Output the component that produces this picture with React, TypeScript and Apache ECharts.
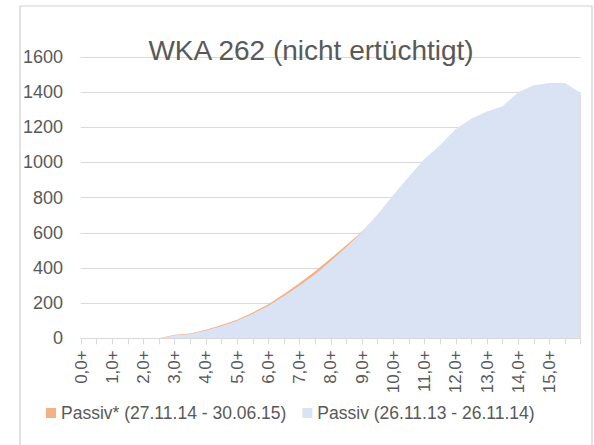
import React, { useEffect, useRef } from "react";
import * as echarts from "echarts";

const categories = [
  "0,0+", "0,5+", "1,0+", "1,5+", "2,0+", "2,5+", "3,0+", "3,5+", "4,0+", "4,5+",
  "5,0+", "5,5+", "6,0+", "6,5+", "7,0+", "7,5+", "8,0+", "8,5+", "9,0+", "9,5+",
  "10,0+", "10,5+", "11,0+", "11,5+", "12,0+", "12,5+", "13,0+", "13,5+", "14,0+", "14,5+",
  "15,0+", "15,5+", "16,0+",
];

const passivStar = [
  0, 0, 0, 0, 0, 0, 20, 27, 48, 75,
  106, 147, 194, 252, 314, 382, 455, 530, 608, 700,
  805, 910, 1010, 1090, 1180, 1240, 1280, 1310, 1390, 1430,
  1440, 1440, 1385,
];

const passiv = [
  0, 0, 0, 0, 0, 0, 18, 24, 45, 70,
  100, 140, 185, 240, 300, 365, 440, 520, 605, 705,
  815, 920, 1020, 1100, 1190, 1250, 1290, 1320, 1400, 1440,
  1452, 1452, 1395,
];

const yTicks = { min: 0, max: 1600, interval: 200 };

const FONT = "'Liberation Sans', Arial, sans-serif";
const TEXT = "#595959";
const GRID = "#d9d9d9";

export default function App() {
  const ref = useRef<HTMLDivElement>(null);

  useEffect(() => {
    if (!ref.current) return;
    const chart = echarts.init(ref.current, undefined, { renderer: "svg" });
    const last = categories.length - 1;
    chart.setOption({
      animation: false,
      backgroundColor: "#ffffff",
      textStyle: { fontFamily: FONT },
      title: {
        text: "WKA 262 (nicht ertüchtigt)",
        left: 306,
        top: 31,
        textAlign: "center",
        textStyle: { fontFamily: FONT, fontSize: 28, fontWeight: "normal", color: TEXT },
      },
      graphic: [
        {
          type: "rect",
          shape: { x: 20, y: 6, width: 572, height: 460 },
          style: { fill: "none", stroke: "#d0d0d0", lineWidth: 1.2 },
          silent: true,
          z: -1,
        },
      ],
      legend: {
        left: 46,
        top: 404,
        padding: 0,
        icon: "rect",
        itemWidth: 10,
        itemHeight: 10,
        itemGap: 16,
        textStyle: { fontFamily: FONT, fontSize: 17.5, color: TEXT },
        data: ["Passiv* (27.11.14 - 30.06.15)", "Passiv (26.11.13 - 26.11.14)"],
      },
      grid: { left: 81, right: 13.3, top: 57, bottom: 106.7, containLabel: false },
      xAxis: {
        type: "category",
        data: categories,
        boundaryGap: false,
        axisLine: { lineStyle: { color: GRID, width: 1 } },
        axisTick: { show: true, interval: 0, length: 6, lineStyle: { color: GRID } },
        axisLabel: {
          rotate: 90,
          margin: 12,
          fontFamily: FONT,
          fontSize: 17,
          color: TEXT,
          interval: (i: number) => i % 2 === 0 && i < last,
        },
      },
      yAxis: {
        type: "value",
        min: yTicks.min,
        max: yTicks.max,
        interval: yTicks.interval,
        axisLine: { show: false },
        axisTick: { show: false },
        axisLabel: {
          margin: 18,
          fontFamily: FONT,
          fontSize: 18,
          color: TEXT,
          formatter: (v: number) => String(v),
        },
        splitLine: { lineStyle: { color: GRID, width: 1 } },
      },
      series: [
        {
          name: "Passiv* (27.11.14 - 30.06.15)",
          type: "line",
          data: passivStar,
          showSymbol: false,
          symbol: "none",
          lineStyle: { width: 0 },
          itemStyle: { color: "#F4B183" },
          areaStyle: { color: "#F4B183", opacity: 1 },
        },
        {
          name: "Passiv (26.11.13 - 26.11.14)",
          type: "line",
          data: passiv,
          showSymbol: false,
          symbol: "none",
          lineStyle: { width: 0 },
          itemStyle: { color: "#DAE3F3" },
          areaStyle: { color: "#DAE3F3", opacity: 1 },
        },
      ],
    });
    return () => chart.dispose();
  }, []);

  return (
    <div
      ref={ref}
      style={{ position: "fixed", left: 0, top: 0, width: 594, height: 445, background: "#fff" }}
    />
  );
}
